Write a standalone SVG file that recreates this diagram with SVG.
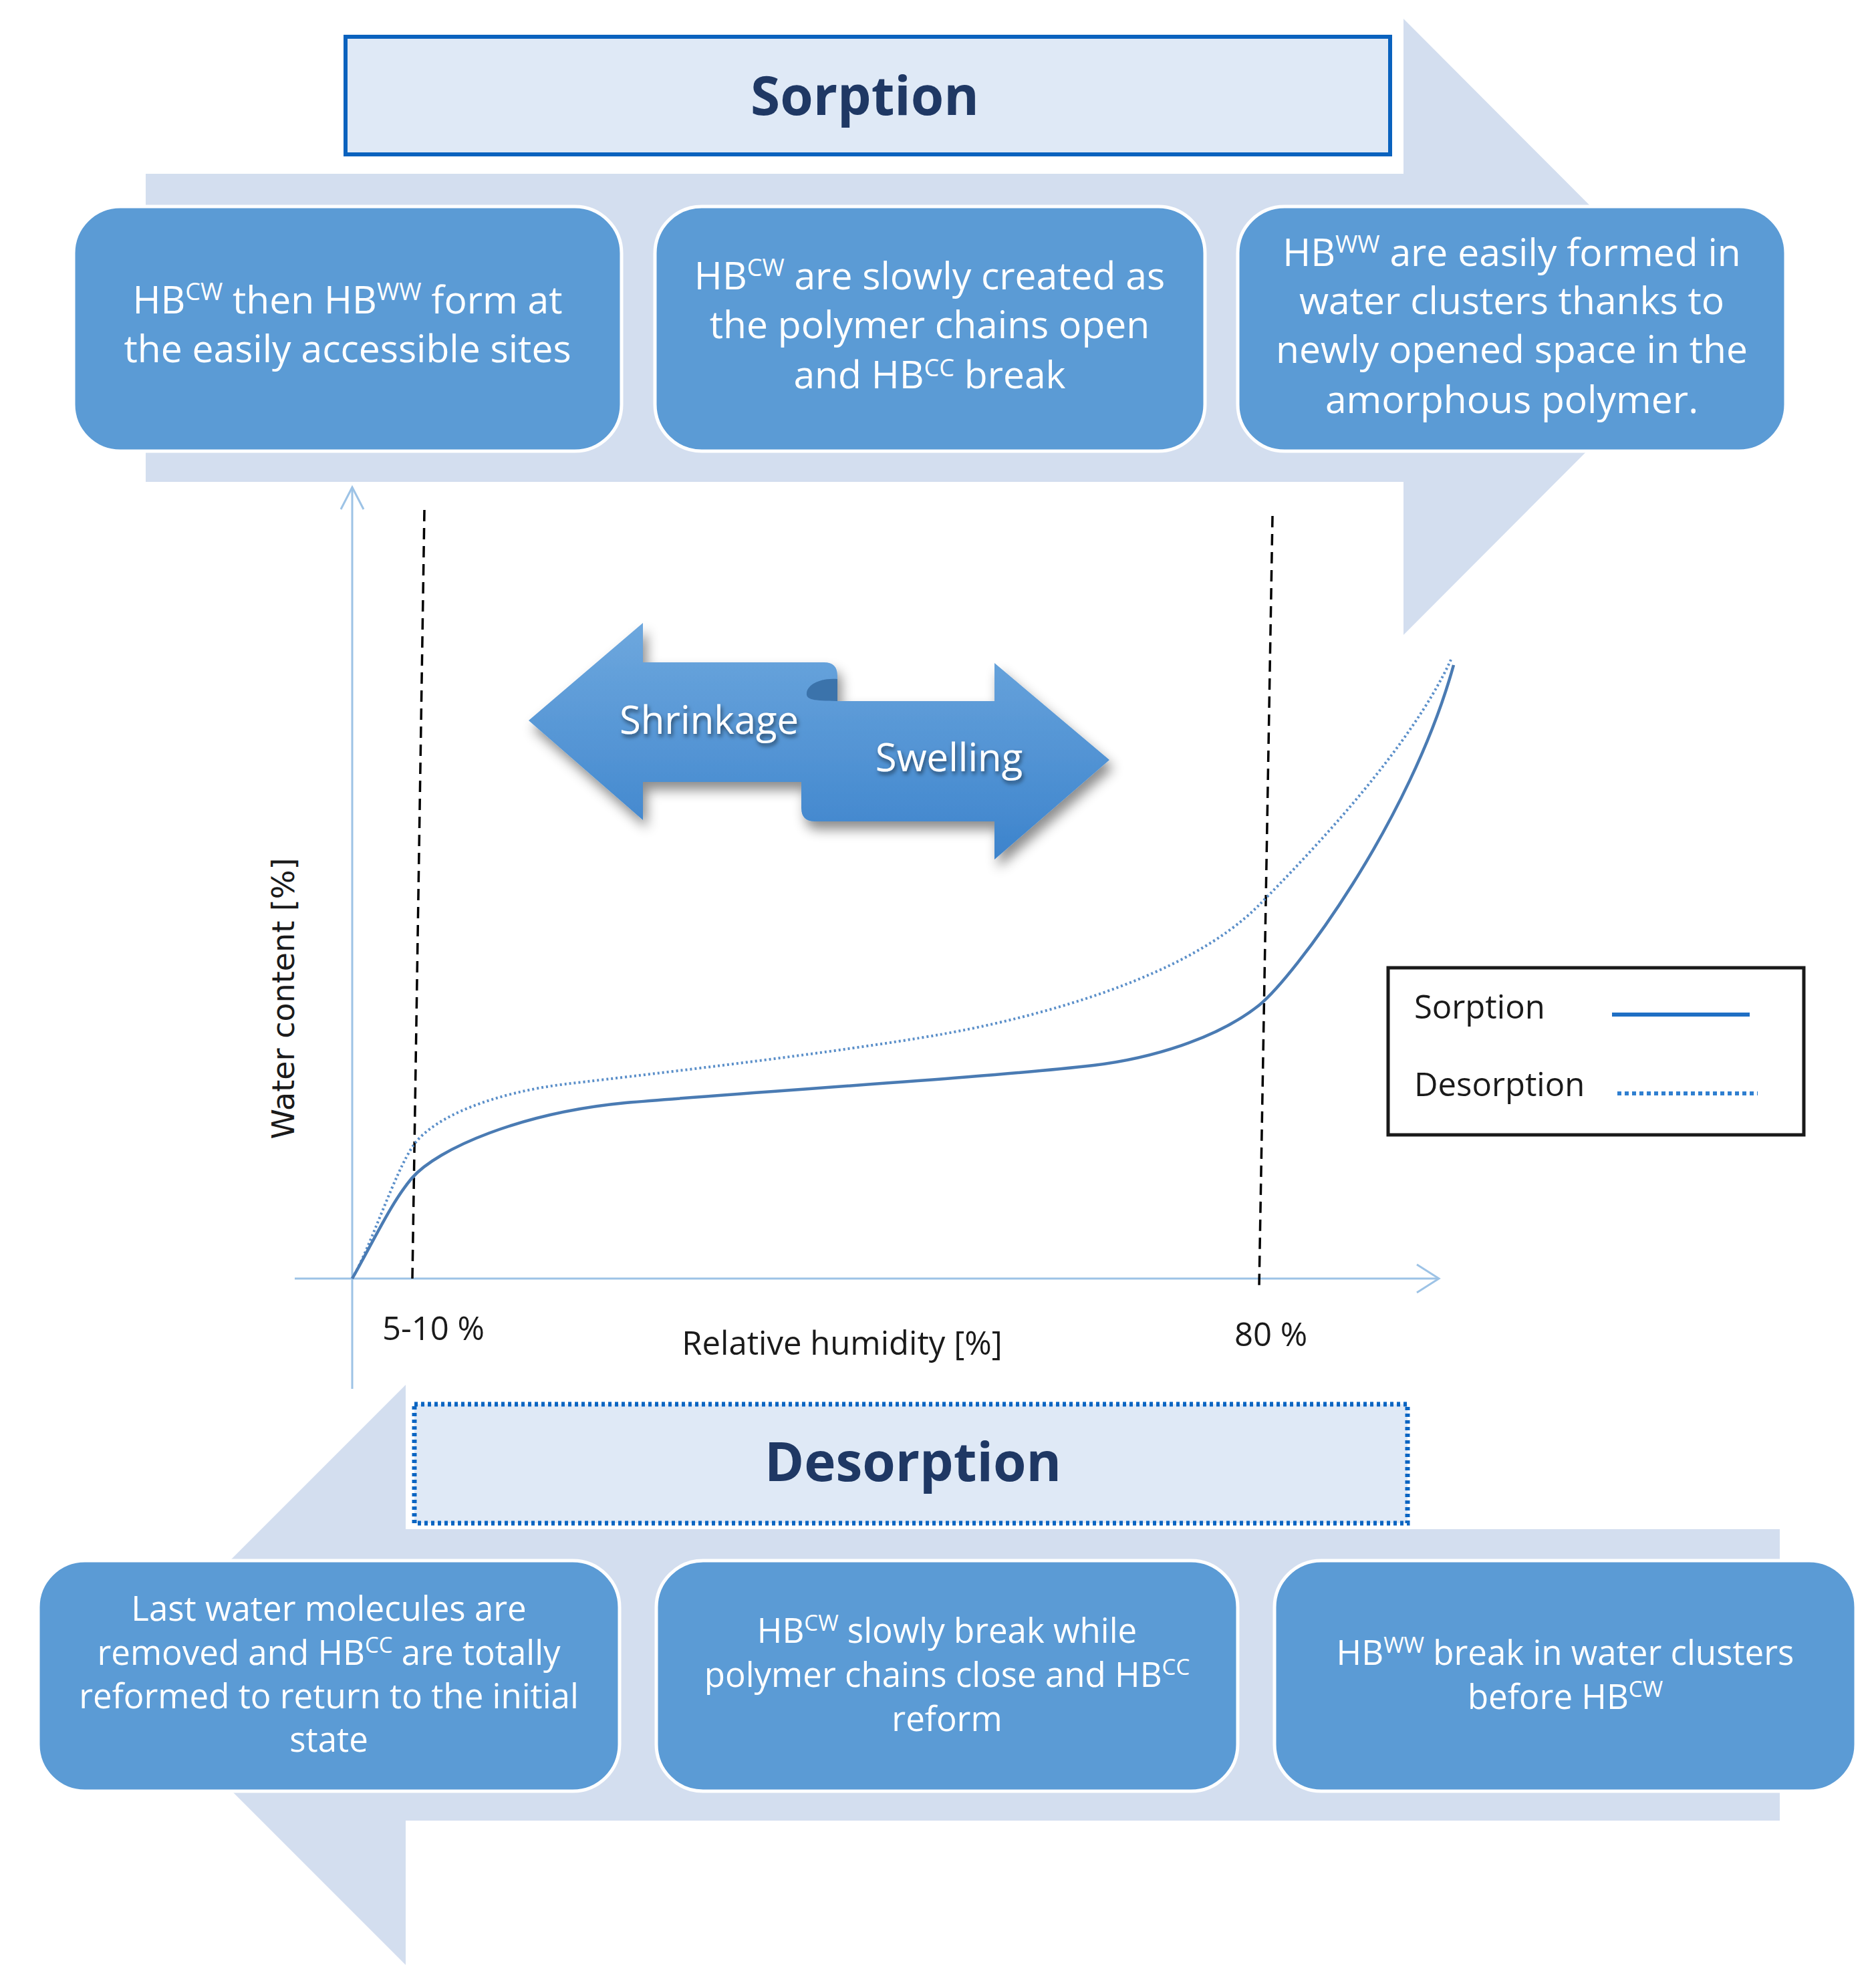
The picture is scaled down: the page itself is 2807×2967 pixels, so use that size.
<svg xmlns="http://www.w3.org/2000/svg" width="2807" height="2967" viewBox="0 0 2807 2967">
<style>
.bg{fill:#ffffff}
.big{fill:#d3deef}
.title{fill:#dfe9f6}
.ttl{font-family:"Open Sans","Liberation Sans",sans-serif;font-weight:bold;font-size:80px;fill:#1f3864;text-anchor:middle}
.box{fill:#5b9bd5;stroke:#ffffff;stroke-width:5}
.bt{font-family:"Open Sans","Liberation Sans",sans-serif;font-size:57px;fill:#ffffff;text-anchor:middle}
.bb{font-family:"Open Sans","Liberation Sans",sans-serif;font-size:51px;fill:#ffffff;text-anchor:middle}
.ax{stroke:#9dc3e6;stroke-width:3;fill:none}
.dash{stroke:#000000;stroke-width:3.5;stroke-dasharray:17 10;fill:none}
.lbl{font-family:"Open Sans","Liberation Sans",sans-serif;font-size:49px;fill:#1a1a1a}
.sa{font-family:"Open Sans","Liberation Sans",sans-serif;font-size:58px;fill:#ffffff;text-anchor:middle}
</style>
<defs>
<linearGradient id="ag" gradientUnits="userSpaceOnUse" x1="0" y1="930" x2="0" y2="1290">
<stop offset="0" stop-color="#6ea8de"/>
<stop offset="1" stop-color="#3c83cc"/>
</linearGradient>
<filter id="sh" x="-20%" y="-20%" width="140%" height="150%">
<feDropShadow dx="6" dy="12" stdDeviation="9" flood-color="#000" flood-opacity="0.45"/>
</filter>
<filter id="ts" x="-10%" y="-30%" width="120%" height="160%">
<feDropShadow dx="2" dy="4" stdDeviation="3" flood-color="#000" flood-opacity="0.55"/>
</filter>
</defs>
<rect class="bg" x="0" y="0" width="2807" height="2967"/>

<g id="sorption-arrow">
<path class="big" d="M218,260 L2100,260 L2100,28 L2560,489 L2100,950 L2100,721 L218,721 Z"/>
</g>
<g id="desorption-arrow">
<path class="big" d="M2663,2288 L607,2288 L607,2072 L173,2506 L607,2940 L607,2724 L2663,2724 Z"/>
</g>

<g id="sorption-title">
<rect class="title" x="517" y="55" width="1563" height="176" stroke="#0a62be" stroke-width="6"/>
<text class="ttl" x="1294" y="172">Sorption</text>
</g>

<g id="sorption-box-1">
<rect class="box" x="110" y="309" width="820" height="366" rx="70" ry="70"/>
<text class="bt" x="520" y="469">HB<tspan dy="-20" font-size="36">CW</tspan><tspan dy="20"> then HB</tspan><tspan dy="-20" font-size="36">WW</tspan><tspan dy="20"> form at</tspan></text>
<text class="bt" x="520" y="542">the easily accessible sites</text>
</g>
<g id="sorption-box-2">
<rect class="box" x="980" y="309" width="823" height="366" rx="70" ry="70"/>
<text class="bt" x="1391" y="433">HB<tspan dy="-20" font-size="36">CW</tspan><tspan dy="20"> are slowly created as</tspan></text>
<text class="bt" x="1391" y="506">the polymer chains open</text>
<text class="bt" x="1391" y="581">and HB<tspan dy="-18" font-size="36">CC</tspan><tspan dy="18"> break</tspan></text>
</g>
<g id="sorption-box-3">
<rect class="box" x="1852" y="309" width="820" height="366" rx="70" ry="70"/>
<text class="bt" x="2262" y="398">HB<tspan dy="-20" font-size="36">WW</tspan><tspan dy="20"> are easily formed in</tspan></text>
<text class="bt" x="2262" y="470">water clusters thanks to</text>
<text class="bt" x="2262" y="543">newly opened space in the</text>
<text class="bt" x="2262" y="618">amorphous polymer.</text>
</g>

<g id="axes">
<line class="ax" x1="527" y1="729" x2="527" y2="2078"/>
<polyline class="ax" points="510,762 527,729 544,762"/>
<line class="ax" x1="441" y1="1913" x2="2152" y2="1913"/>
<polyline class="ax" points="2120,1892 2153,1913 2120,1934"/>
<line class="dash" x1="635" y1="763" x2="617" y2="1913"/>
<line class="dash" x1="1904" y1="772" x2="1884" y2="1925"/>
</g>

<g id="curves">
<path d="M527,1913 C555,1865 590,1755 619,1713 C650,1670 740,1635 846,1622 C1000,1604 1250,1575 1406,1548 C1560,1521 1780,1460 1884,1354 C1960,1277 2110,1120 2171,987" fill="none" stroke="#5b8fc9" stroke-width="4" stroke-dasharray="3 4"/>
<path d="M527,1913 C560,1855 585,1800 616,1763 C655,1718 780,1665 936,1650 C1150,1632 1480,1612 1636,1594 C1720,1584 1820,1555 1884,1504 C1935,1463 2110,1230 2175,995" fill="none" stroke="#4a7bb3" stroke-width="4.5"/>
</g>

<g id="shrink-swell">
<path filter="url(#sh)" fill="url(#ag)" d="M791,1078 L962,932 L962,991 L1233,991 Q1253,991 1253,1011 L1253,1049 L1488,1049 L1488,992 L1660,1137 L1488,1286 L1488,1229 L1219,1229 Q1199,1229 1199,1209 L1199,1170 L962,1170 L962,1227 Z"/>
<path fill="#3b73ab" d="M1253,1016 C1228,1014 1208,1024 1207,1037 C1206,1046 1214,1049 1253,1049 Z"/>
<text class="sa" x="1061" y="1098" filter="url(#ts)">Shrinkage</text>
<text class="sa" x="1420" y="1154" filter="url(#ts)">Swelling</text>
</g>

<g id="legend">
<rect x="2077" y="1448" width="622" height="250" fill="#ffffff" stroke="#1a1a1a" stroke-width="5"/>
<text class="lbl" x="2116" y="1524">Sorption</text>
<text class="lbl" x="2116" y="1640">Desorption</text>
<line x1="2412" y1="1518" x2="2618" y2="1518" stroke="#1f6fc4" stroke-width="6"/>
<line x1="2420" y1="1636" x2="2630" y2="1636" stroke="#2f7fd0" stroke-width="6" stroke-dasharray="6 5"/>
</g>

<g id="axis-labels">
<text transform="translate(440,1494) rotate(-90)" font-family="'DejaVu Sans',Verdana,sans-serif" font-size="46" fill="#1a1a1a" text-anchor="middle">Water content [%]</text>
<text class="lbl" x="1260" y="2027" text-anchor="middle">Relative humidity [%]</text>
<text class="lbl" x="572" y="2005">5-10 %</text>
<text class="lbl" x="1847" y="2014">80 %</text>
</g>

<g id="desorption-title">
<rect class="title" x="620" y="2101" width="1486" height="178" stroke="#0b65c2" stroke-width="7" stroke-dasharray="5 5"/>
<text class="ttl" x="1366" y="2216">Desorption</text>
</g>

<g id="desorption-box-1">
<rect class="box" x="57" y="2335" width="870" height="345" rx="70" ry="70"/>
<text class="bb" x="492" y="2425">Last water molecules are</text>
<text class="bb" x="492" y="2491">removed and HB<tspan dy="-18" font-size="33">CC</tspan><tspan dy="18"> are totally</tspan></text>
<text class="bb" x="492" y="2556">reformed to return to the initial</text>
<text class="bb" x="492" y="2621">state</text>
</g>
<g id="desorption-box-2">
<rect class="box" x="982" y="2335" width="870" height="345" rx="70" ry="70"/>
<text class="bb" x="1417" y="2458">HB<tspan dy="-18" font-size="33">CW</tspan><tspan dy="18"> slowly break while</tspan></text>
<text class="bb" x="1417" y="2524">polymer chains close and HB<tspan dy="-18" font-size="33">CC</tspan></text>
<text class="bb" x="1417" y="2590">reform</text>
</g>
<g id="desorption-box-3">
<rect class="box" x="1907" y="2335" width="870" height="345" rx="70" ry="70"/>
<text class="bb" x="2342" y="2491">HB<tspan dy="-18" font-size="33">WW</tspan><tspan dy="18"> break in water clusters</tspan></text>
<text class="bb" x="2342" y="2557">before HB<tspan dy="-18" font-size="33">CW</tspan></text>
</g>
</svg>
